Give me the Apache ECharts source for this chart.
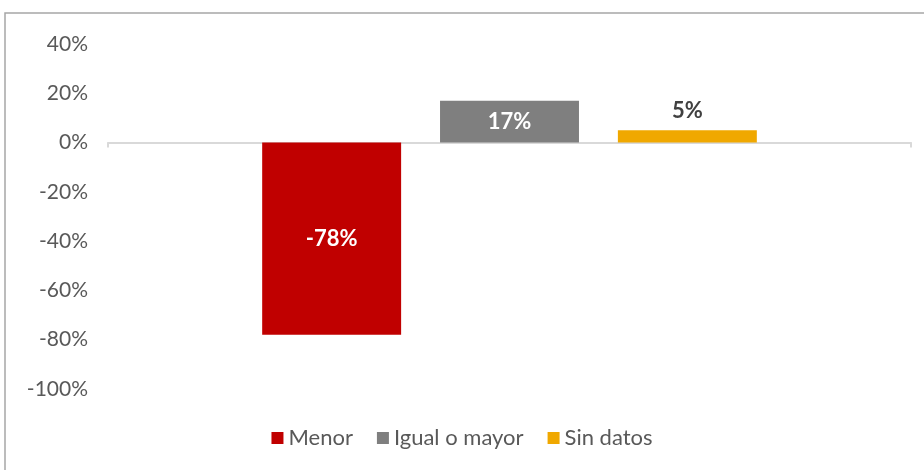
<!DOCTYPE html>
<html>
<head>
<meta charset="utf-8">
<script src="https://cdn.jsdelivr.net/npm/echarts@6/dist/echarts.min.js"></script>
<style>
  html, body { margin: 0; padding: 0; background: #fff; }
  #chart { width: 924px; height: 470px; }
</style>
</head>
<body>
<div id="chart"></div>
<script>
const categories = [''];
const seriesNames = ['Menor', 'Igual o mayor', 'Sin datos'];
const menor = [-78];
const igualOMayor = [17];
const sinDatos = [5];
const colors = ['#c00000', '#7f7f7f', '#f0a800'];

const font = 'Lato';
const chart = echarts.init(document.getElementById('chart'));

const values = [menor, igualOMayor, sinDatos];

chart.setOption({
    backgroundColor: '#fff',
    animation: false,
    graphic: [{
        type: 'rect',
        shape: { x: 5, y: 13, width: 960, height: 500 },
        style: { fill: 'none', stroke: '#a6a6a6', lineWidth: 1.5 },
        silent: true
    }],
    legend: {
        bottom: 16,
        left: 'center',
        itemWidth: 12,
        itemHeight: 12,
        itemGap: 24,
        icon: 'rect',
        textStyle: { color: '#595959', fontSize: 22, fontFamily: font },
        data: seriesNames
    },
    grid: { left: 108, right: 13, top: 44, bottom: 81 },
    xAxis: {
        type: 'category',
        data: categories,
        axisLine: { onZero: true, lineStyle: { color: '#d9d9d9', width: 2 } },
        axisTick: { show: true, length: 5, lineStyle: { color: '#d9d9d9', width: 2 } },
        axisLabel: { show: false }
    },
    yAxis: {
        type: 'value',
        min: -100,
        max: 40,
        interval: 20,
        splitLine: { show: false },
        axisLine: { show: false },
        axisTick: { show: false },
        axisLabel: {
            color: '#595959', fontSize: 21, fontFamily: font, margin: 20,
            formatter: (v) => v + '%'
        }
    },
    series: seriesNames.map((name, i) => ({
        name: name,
        type: 'bar',
        barGap: '28%',
        barCategoryGap: '38.4%',
        itemStyle: { color: colors[i] },
        label: {
            show: true,
            position: i === 2 ? 'top' : 'inside',
            distance: 8,
            color: i === 2 ? '#404040' : '#fff',
            fontSize: 22,
            fontWeight: 'bold',
            fontFamily: font,
            formatter: (p) => p.value + '%'
        },
        data: values[i]
    }))
});
</script>
</body>
</html>
